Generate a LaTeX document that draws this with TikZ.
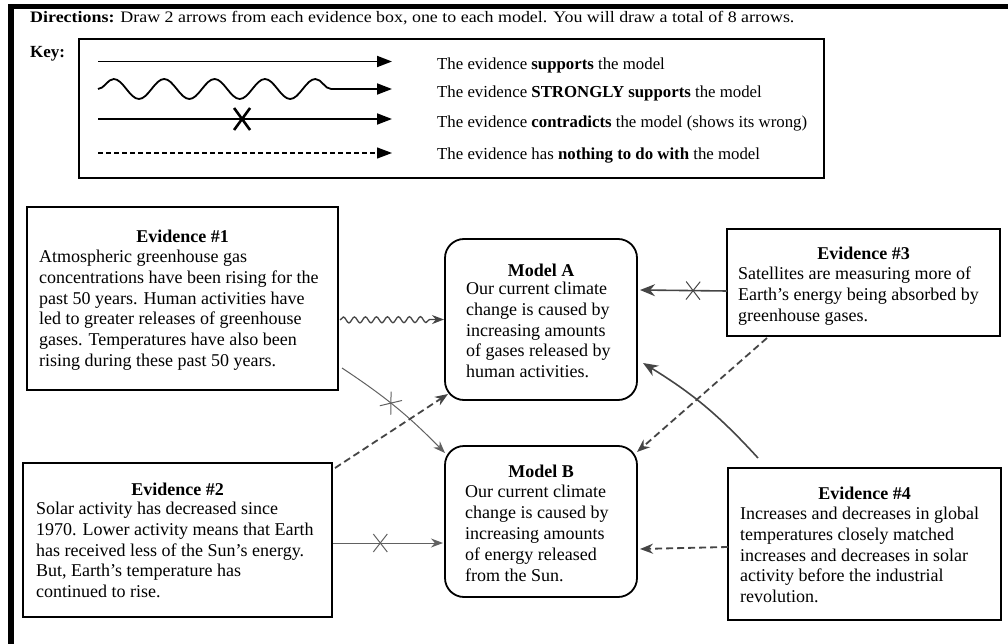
\documentclass[tikz,border=0pt]{standalone}
\usepackage{fontspec}
\setmainfont{Liberation Serif}
\newfontfamily\widefont[FakeStretch=1.12]{Liberation Serif}
\usetikzlibrary{arrows.meta,decorations.pathmorphing,decorations.markings}
\definecolor{handgray}{gray}{0.38}
\definecolor{darkhand}{gray}{0.27}
\begin{document}
\begin{tikzpicture}[x=1pt,y=-1pt,
  evbox/.style={draw, line width=1.3pt, rectangle, inner sep=0pt, outer sep=0pt},
  modbox/.style={draw, line width=1.8pt, rectangle, rounded corners=19pt, inner sep=0pt, outer sep=0pt},
  body/.style={anchor=north west, align=left, inner sep=0pt, font=\fontsize{18}{20.9}\selectfont},
  ttl/.style={anchor=base, inner sep=0pt, font=\fontsize{18}{20.9}\selectfont\bfseries},
  keytxt/.style={anchor=base west, inner sep=0pt, font=\fontsize{16.8}{19}\selectfont},
  keyline/.style={line width=1.8pt, -{Triangle[length=15pt,width=11pt]}},
  crossmark/.style={postaction={decorate, decoration={markings,
      mark=at position #1 with {\draw[line width=1pt, solid, -] (-7pt,-9pt) -- (7pt,9pt) (-7pt,9pt) -- (7pt,-9pt);}}}},
  keycross/.style={postaction={decorate, decoration={markings,
      mark=at position #1 with {\draw[line width=2.6pt, -] (-8pt,-11pt) -- (8pt,11pt) (-8pt,11pt) -- (8pt,-11pt);}}}},
  hand/.style={draw=handgray, line width=1pt, -{Stealth[length=12pt,width=9pt]}},
  handdash/.style={draw=darkhand, line width=1.8pt, dash pattern=on 7pt off 4pt, -{Stealth[length=13pt,width=10pt]}},
  handbold/.style={draw=darkhand, line width=1.6pt, -{Stealth[length=15pt,width=12pt]}}
]
\useasboundingbox (0,0) rectangle (1008,644);
% frame
\fill (8,4) rectangle (1008,9);
\fill (8,4) rectangle (14,644);

% directions
\node[keytxt, font=\widefont\fontsize{16}{19}\selectfont] (dir) at (30,22.5)
  {\textbf{Directions:} Draw 2 arrows from each evidence box, one to each model. You will draw a total of 8 arrows.};
\node[keytxt, font=\fontsize{17}{19}\selectfont\bfseries] (keylbl) at (30,58) {Key:};

% key box
\node[evbox, minimum width=745pt, minimum height=139pt] (keybox) at (451.5,108.5) {};
\coordinate (k1a) at (98,61.5);  \coordinate (k1b) at (392,61.5);
\coordinate (k2a) at (98,89);    \coordinate (k2b) at (392,89);
\coordinate (k3a) at (98,119);   \coordinate (k3b) at (392,119);
\coordinate (k4a) at (98,153);   \coordinate (k4b) at (392,153);
\draw[keyline] (k1a) -- (k1b);
\draw[keyline, decorate, decoration={snake, amplitude=10pt, segment length=50.4pt, post length=42pt}] (k2a) -- (k2b);
\draw[keyline, keycross=0.49] (k3a) -- (k3b);
\draw[keyline, line width=1.2pt, dash pattern=on 5pt off 3pt] (k4a) -- (k4b);
\node[keytxt] (kt1) at (437,69.5) {The evidence \textbf{supports} the model};
\node[keytxt] (kt2) at (437,97.5) {The evidence \textbf{STRONGLY supports} the model};
\node[keytxt] (kt3) at (437,128) {The evidence \textbf{contradicts} the model (shows its wrong)};
\node[keytxt] (kt4) at (437,159.5) {The evidence has \textbf{nothing to do with} the model};

% evidence boxes
\node[evbox, minimum width=311pt, minimum height=183pt] (ev1) at (182.5,298.5) {};
\node[ttl] (ev1t) at (182.5,243) {Evidence \#1};
\node[body] (ev1b) at (39,247.4) {\strut Atmospheric greenhouse gas\\
concentrations have been rising for the\\
past 50 years. Human activities have\\
led to greater releases of greenhouse\\
gases. Temperatures have also been\\
rising during these past 50 years.};

\node[evbox, minimum width=309pt, minimum height=154pt] (ev2) at (177.5,540) {};
\node[ttl] (ev2t) at (177.5,495) {Evidence \#2};
\node[body] (ev2b) at (36,499.4) {\strut Solar activity has decreased since\\
1970. Lower activity means that Earth\\
has received less of the Sun’s energy.\\
But, Earth’s temperature has\\
continued to rise.};

\node[evbox, minimum width=273pt, minimum height=107pt] (ev3) at (863.5,282.5) {};
\node[ttl] (ev3t) at (863.5,259) {Evidence \#3};
\node[body] (ev3b) at (738,264.4) {\strut Satellites are measuring more of\\
Earth’s energy being absorbed by\\
greenhouse gases.};

\node[evbox, minimum width=273pt, minimum height=152pt] (ev4) at (864.5,544) {};
\node[ttl] (ev4t) at (864.5,499) {Evidence \#4};
\node[body] (ev4b) at (740,504.4) {\strut Increases and decreases in global\\
temperatures closely matched\\
increases and decreases in solar\\
activity before the industrial\\
revolution.};

% models
\node[modbox, minimum width=192pt, minimum height=161pt] (mA) at (541,319.5) {};
\node[ttl] (mAt) at (541,276) {Model A};
\node[body] (mAb) at (466,279.4) {\strut Our current climate\\
change is caused by\\
increasing amounts\\
of gases released by\\
human activities.};

\node[modbox, minimum width=192pt, minimum height=151pt] (mB) at (541,521.5) {};
\node[ttl] (mBt) at (541,477.5) {Model B};
\node[body] (mBb) at (465,482.7) {\strut Our current climate\\
change is caused by\\
increasing amounts\\
of energy released\\
from the Sun.};

% hand-drawn arrows
\draw[hand, line width=1.3pt, draw=darkhand, decorate, decoration={snake, amplitude=3pt, segment length=11pt, post length=12pt}]
  ([xshift=2pt,yshift=-21.5pt]ev1.east) -- ([xshift=-1pt]mA.west);
\draw[hand, crossmark=0.45] ([xshift=4pt,yshift=22pt]ev1.south east) to[bend left=6] ([yshift=-7pt]mB.north west);
\draw[handdash] ([xshift=3pt,yshift=-5pt]ev2.north east) -- ([xshift=3pt,yshift=6pt]mA.south west);
\draw[hand, crossmark=0.43] ([xshift=1pt,yshift=-3pt]ev2.east) -- ([xshift=-2pt,yshift=-21.5pt]mB.west);
\draw[handbold, crossmark=0.39] ([yshift=-8.5pt]ev3.west) -- ([xshift=3pt,yshift=29.5pt]mA.east);
\draw[handdash] ([xshift=40pt,yshift=-2pt]ev3.south west) -- ([yshift=-6pt]mB.north east);
\draw[handbold] ([xshift=30pt,yshift=10pt]ev4.north west) to[bend right=8] ([xshift=6pt,yshift=-43.5pt]mA.east);
\draw[handdash] ([yshift=-3pt]ev4.west) -- ([xshift=3pt,yshift=-27.5pt]mB.east);
\end{tikzpicture}
\end{document}
